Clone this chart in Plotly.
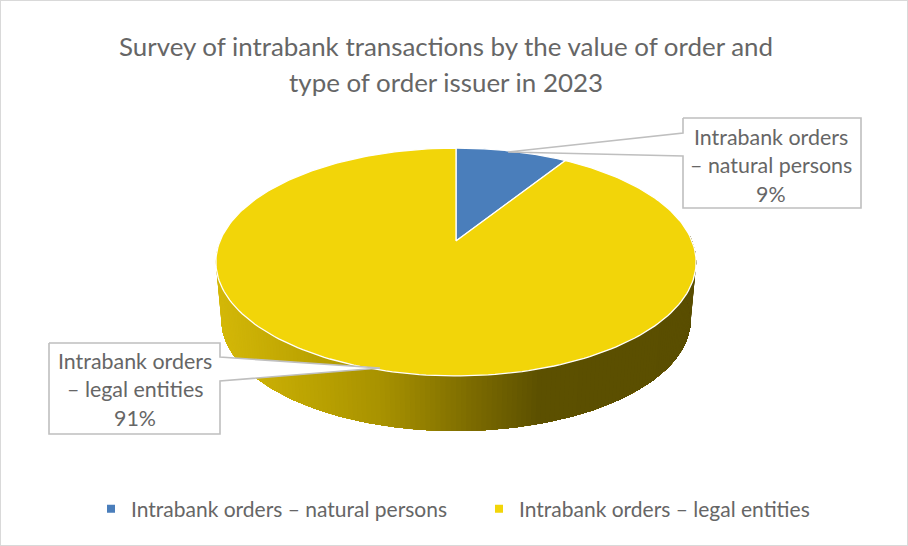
import numpy as np
import plotly.graph_objects as go

categories = ["Intrabank orders – natural persons", "Intrabank orders – legal entities"]
values = [9, 91]
colors = ["#4a7ebb", "#f2d509"]
title_lines = ["Survey of intrabank transactions by the value of order and", "type of order issuer in 2023"]
callout_lines = [["Intrabank orders", "– natural persons", "9%"], ["Intrabank orders", "– legal entities", "91%"]]

FONT = "Lato"
TXT = "#666666"

# Projective view of the pie disc
CX, K, C, Y0, P = 456.0, 236.0, 0.1842, 241.0, -65.7


def project(theta):
    u, v = np.sin(theta), np.cos(theta)
    d = 1 + C * v
    return CX + K * u / d, (Y0 + P * v) / d


def lower(theta):
    x, y = project(theta)
    return CX + (x - CX) * 0.977, 320 + (y - 262) * 0.974


def side_color(x):
    xs = [216, 300, 380, 470, 540, 700]
    r = np.interp(x, xs, [212, 190, 168, 125, 92, 90])
    g = np.interp(x, xs, [184, 165, 146, 108, 80, 78])
    b = np.interp(x, xs, [8, 2, 0, 0, 0, 0])
    return f"rgb({r:.0f},{g:.0f},{b:.0f})"


fig = go.Figure()

# side wall: painted left to right, each layer covering the rest of the wall so no seams show
edges = np.linspace(3 * np.pi / 2 + 0.05, np.pi / 2 - 0.05, 181)
for i in range(len(edges) - 1):
    t = edges[i:]
    xt, yt = project(t)
    xb, yb = lower(t)
    col = side_color(float(xt[:2].mean()))
    fig.add_trace(go.Scatter(
        x=np.r_[xt, xb[::-1], xt[0]], y=np.r_[yt, yb[::-1], yt[0]],
        mode="lines", fill="toself", fillcolor=col, line=dict(width=0),
        hoverinfo="skip", showlegend=False))

# top slices, computed from the values
fractions = np.array(values, dtype=float) / sum(values)
starts = np.r_[0, np.cumsum(fractions)[:-1]] * 2 * np.pi
for name, frac, start, col in zip(categories, fractions, starts, colors):
    t = np.linspace(start, start + frac * 2 * np.pi, 240)
    x, y = project(t)
    fig.add_trace(go.Scatter(
        x=np.r_[CX, x, CX], y=np.r_[Y0, y, Y0], mode="lines", fill="toself",
        fillcolor=col, line=dict(color="#ffffff", width=1.3), name=name,
        hoverinfo="name", showlegend=False))

# legend entries
for name, col in zip(categories, colors):
    fig.add_trace(go.Scatter(x=[None], y=[None], mode="markers", name=name,
                             marker=dict(symbol="square", size=8, color=col)))

# callouts
boxes = [(683, 861, 118, 208), (49, 220, 343, 434)]
pointers = [((683, 133), (508, 152), (683, 156)), ((220, 357), (380, 368), (220, 381))]
centers = [(771, 137), (135, 361)]
sides = ["left", "right"]
for (x0, x1, y0, y1), (p0, tip, p1), side in zip(boxes, pointers, sides):
    if side == "left":
        px = [x0, x0, tip[0], x0, x0, x1, x1, x0]
        py = [y0, p0[1], tip[1], p1[1], y1, y1, y0, y0]
    else:
        px = [x0, x1, x1, tip[0], x1, x1, x0, x0]
        py = [y0, y0, p0[1], tip[1], p1[1], y1, y1, y0]
    fig.add_trace(go.Scatter(x=px, y=py, mode="lines", fill="toself", fillcolor="#ffffff",
                             line=dict(color="#bfbfbf", width=1.6), hoverinfo="skip", showlegend=False))

for lines, (cx, cy) in zip(callout_lines, centers):
    for i, line in enumerate(lines):
        fig.add_annotation(x=cx, y=cy + i * 28.3, text=line, showarrow=False, xref="x", yref="y",
                           font=dict(family=FONT, size=21.4, color=TXT), xanchor="center", yanchor="middle")

title_text = "<br>".join(f'<span style="font-size:25.9px">{s}</span>' for s in title_lines)
fig.update_layout(
    width=908, height=546,
    margin=dict(l=0, r=0, t=0, b=0),
    paper_bgcolor="#ffffff", plot_bgcolor="#ffffff",
    title=dict(text=title_text, x=446 / 908, xanchor="center", y=1 - 56 / 546, yanchor="middle",
               font=dict(family=FONT, size=28, color=TXT)),
    xaxis=dict(range=[0, 908], visible=False, fixedrange=True),
    yaxis=dict(range=[546, 0], visible=False, fixedrange=True),
    legend=dict(orientation="h", x=91 / 908, xanchor="left", y=1 - 509 / 546, yanchor="middle",
                font=dict(family=FONT, size=21, color=TXT), entrywidth=343, entrywidthmode="pixels",
                bgcolor="rgba(0,0,0,0)", itemclick=False, itemdoubleclick=False),
    shapes=[dict(type="rect", xref="paper", yref="paper", x0=0, x1=1, y0=0, y1=1,
                 line=dict(color="#d9d9d9", width=2), fillcolor="rgba(0,0,0,0)", layer="below")],
    showlegend=True,
)

fig.write_html("out.html", config={"displayModeBar": False},
               post_script="document.body.style.margin='0';document.body.style.overflow='hidden';")
